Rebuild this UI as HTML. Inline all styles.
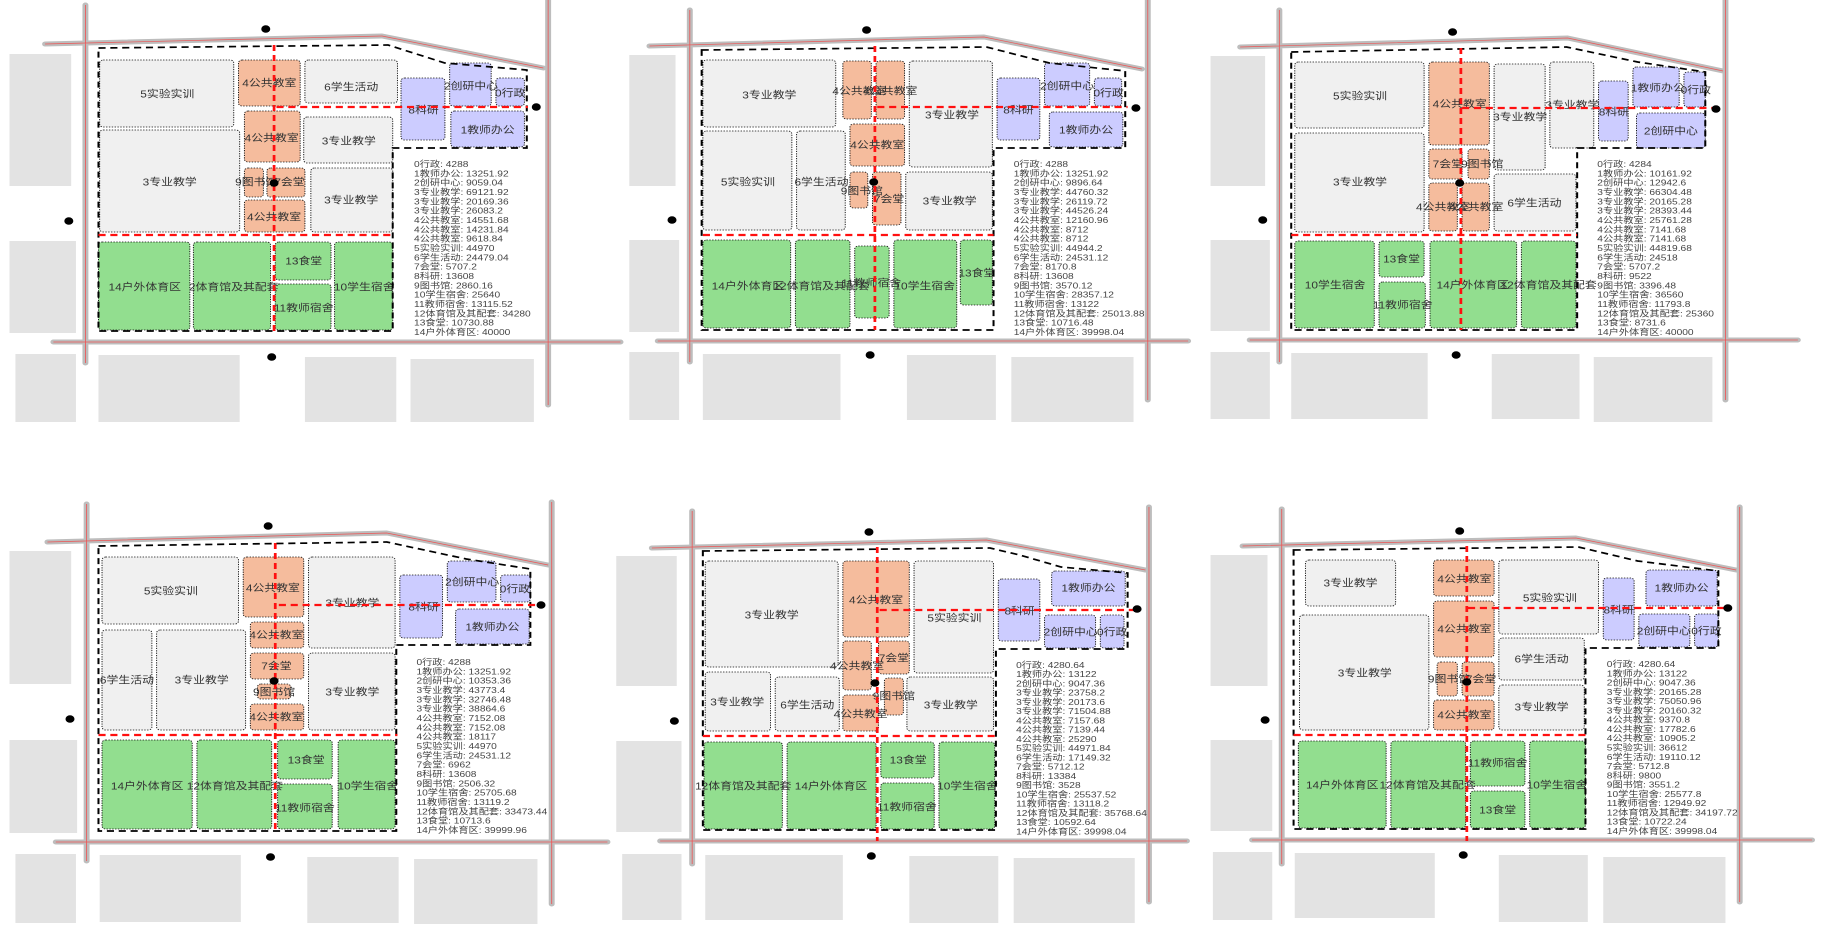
<!DOCTYPE html>
<html><head><meta charset="utf-8"><style>
html,body{margin:0;padding:0;background:#fff;overflow:hidden}
svg{display:block;font-family:"Liberation Sans","Noto Sans CJK SC",sans-serif;}
.b{fill:#e3e3e3}
.rd{fill:none;stroke:#bdbdbd;stroke-width:5;stroke-linecap:round;stroke-linejoin:round}
.rr{fill:none;stroke:#ee5555;stroke-width:.7}
.c{stroke:#111;stroke-width:.8;stroke-dasharray:1.2 1.2}
.gr{fill:#f0f0f0}.or{fill:#f5bc9d}.pu{fill:#ccccff}.gn{fill:#92de8f}
.bd{fill:none;stroke:#000;stroke-width:1.7;stroke-dasharray:6 4}
.red{fill:none;stroke:#ff1010;stroke-width:2.3;stroke-dasharray:6 4}
.l{font-size:10px;fill:#333;text-anchor:middle;dominant-baseline:central}
.t{font-size:8.6px;fill:#444}
</style></head><body>
<svg width="1839" height="929" viewBox="0 0 1550 929" preserveAspectRatio="none" xmlns="http://www.w3.org/2000/svg">
<rect width="1550" height="929" fill="#fff"/>

<!-- PANEL 1 -->
<g transform="translate(0,0)">
<rect class="b" x="8" y="54" width="52" height="132"/><rect class="b" x="8" y="241" width="56" height="92"/><rect class="b" x="13" y="354" width="51" height="68"/><rect class="b" x="83" y="355" width="119" height="67"/><rect class="b" x="257" y="357" width="77" height="65"/><rect class="b" x="346" y="359" width="104" height="63"/>
<path class="rd" d="M72 5V363M38 44L322 36L458 68M462 0V405M45 342H523"/>
<path class="rr" d="M72 5V363M38 44L322 36L458 68M462 0V405M45 342H523"/>
<rect class="c gr" rx="3" x="84" y="60" width="113" height="67"/><rect class="c or" rx="3" x="201" y="60" width="52" height="46"/><rect class="c gr" rx="3" x="257" y="60" width="78" height="43"/><rect class="c pu" rx="3" x="338" y="78" width="37" height="62"/><rect class="c pu" rx="3" x="379" y="63" width="35" height="43"/><rect class="c pu" rx="3" x="418" y="78" width="24" height="28"/><rect class="c pu" rx="3" x="380" y="111" width="62" height="36"/><rect class="c or" rx="3" x="206" y="111" width="47" height="51"/><rect class="c gr" rx="3" x="256" y="117" width="75" height="46"/><rect class="c gr" rx="3" x="84" y="130" width="118" height="102"/><rect class="c or" rx="3" x="206" y="168" width="16" height="29"/><rect class="c or" rx="3" x="225" y="168" width="32" height="29"/><rect class="c or" rx="3" x="206" y="200" width="51" height="32"/><rect class="c gr" rx="3" x="262" y="168" width="69" height="64"/><rect class="c gn" rx="3" x="83" y="242" width="77" height="88"/><rect class="c gn" rx="3" x="163" y="242" width="65" height="88"/><rect class="c gn" rx="3" x="232" y="242" width="47" height="38"/><rect class="c gn" rx="3" x="232" y="284" width="47" height="46"/><rect class="c gn" rx="3" x="282" y="242" width="49" height="88"/>
<text class="l" x="141" y="95">5实验实训</text><text class="l" x="227" y="84">4公共教室</text><text class="l" x="296" y="88">6学生活动</text><text class="l" x="357" y="111">8科研</text><text class="l" x="397" y="87">2创研中心</text><text class="l" x="430" y="94">0行政</text><text class="l" x="411" y="131">1教师办公</text><text class="l" x="229" y="139">4公共教室</text><text class="l" x="294" y="142">3专业教学</text><text class="l" x="143" y="183">3专业教学</text><text class="l" x="216" y="183">9图书馆</text><text class="l" x="244" y="183">7会堂</text><text class="l" x="231" y="218">4公共教室</text><text class="l" x="296" y="201">3专业教学</text><text class="l" x="122" y="288">14户外体育区</text><text class="l" x="197" y="288">2体育馆及其配套</text><text class="l" x="256" y="262">13食堂</text><text class="l" x="256" y="309">11教师宿舍</text><text class="l" x="307" y="288">10学生宿舍</text>
<path class="bd" d="M83 48L327 45L375 63L444 70V148H331V331H83Z"/>
<path class="red" d="M231 45V331M83 235H332M233 107H445"/>
<circle cx="224" cy="29" r="3.8"/><circle cx="58" cy="221" r="3.8"/><circle cx="229" cy="357" r="3.8"/><circle cx="452" cy="107" r="3.8"/><circle cx="231" cy="183" r="3.8"/>
<text class="t" x="349" y="167"><tspan x="349">0行政: 4288</tspan><tspan x="349" dy="9.33">1教师办公: 13251.92</tspan><tspan x="349" dy="9.33">2创研中心: 9059.04</tspan><tspan x="349" dy="9.33">3专业教学: 69121.92</tspan><tspan x="349" dy="9.33">3专业教学: 20169.36</tspan><tspan x="349" dy="9.33">3专业教学: 26083.2</tspan><tspan x="349" dy="9.33">4公共教室: 14551.68</tspan><tspan x="349" dy="9.33">4公共教室: 14231.84</tspan><tspan x="349" dy="9.33">4公共教室: 9618.84</tspan><tspan x="349" dy="9.33">5实验实训: 44970</tspan><tspan x="349" dy="9.33">6学生活动: 24479.04</tspan><tspan x="349" dy="9.33">7会堂: 5707.2</tspan><tspan x="349" dy="9.33">8科研: 13608</tspan><tspan x="349" dy="9.33">9图书馆: 2860.16</tspan><tspan x="349" dy="9.33">10学生宿舍: 25640</tspan><tspan x="349" dy="9.33">11教师宿舍: 13115.52</tspan><tspan x="349" dy="9.33">12体育馆及其配套: 34280</tspan><tspan x="349" dy="9.33">13食堂: 10730.88</tspan><tspan x="349" dy="9.33">14户外体育区: 40000</tspan></text>
</g>

<!-- PANEL 2 -->
<g transform="translate(514.4,0)">
<rect class="b" x="16" y="55" width="39" height="131"/><rect class="b" x="16" y="240" width="42" height="92"/><rect class="b" x="16" y="352" width="42" height="68"/><rect class="b" x="78" y="354" width="116" height="66"/><rect class="b" x="250" y="355" width="75" height="65"/><rect class="b" x="338" y="357" width="103" height="65"/>
<path class="rd" d="M67 10V362M33 46L315 37L448 69M453 0V400M40 341H487"/>
<path class="rr" d="M67 10V362M33 46L315 37L448 69M453 0V400M40 341H487"/>
<rect class="c gr" rx="3" x="78" y="60" width="112" height="67"/><rect class="c or" rx="3" x="196" y="61" width="24" height="58"/><rect class="c or" rx="3" x="224" y="61" width="24" height="58"/><rect class="c gr" rx="3" x="252" y="61" width="70" height="106"/><rect class="c pu" rx="3" x="326" y="78" width="36" height="62"/><rect class="c pu" rx="3" x="366" y="63" width="38" height="43"/><rect class="c pu" rx="3" x="408" y="78" width="23" height="28"/><rect class="c pu" rx="3" x="370" y="112" width="62" height="35"/><rect class="c gr" rx="3" x="78" y="131" width="75" height="99"/><rect class="c gr" rx="3" x="157" y="131" width="41" height="99"/><rect class="c or" rx="3" x="202" y="124" width="46" height="42"/><rect class="c or" rx="3" x="202" y="172" width="15" height="36"/><rect class="c or" rx="3" x="221" y="172" width="24" height="53"/><rect class="c gr" rx="3" x="249" y="172" width="73" height="58"/><rect class="c gn" rx="3" x="78" y="240" width="74" height="88"/><rect class="c gn" rx="3" x="156" y="240" width="46" height="88"/><rect class="c gn" rx="3" x="206" y="246" width="29" height="72"/><rect class="c gn" rx="3" x="239" y="240" width="53" height="88"/><rect class="c gn" rx="3" x="295" y="240" width="27" height="65"/>
<text class="l" x="134" y="96">3专业教学</text><text class="l" x="210" y="92">4公共教室</text><text class="l" x="236" y="92">4公共教室</text><text class="l" x="288" y="116">3专业教学</text><text class="l" x="344" y="111">8科研</text><text class="l" x="385" y="87">2创研中心</text><text class="l" x="420" y="94">0行政</text><text class="l" x="401" y="131">1教师办公</text><text class="l" x="116" y="183">5实验实训</text><text class="l" x="178" y="183">6学生活动</text><text class="l" x="225" y="146">4公共教室</text><text class="l" x="212" y="192">9图书馆</text><text class="l" x="235" y="200">7会堂</text><text class="l" x="286" y="202">3专业教学</text><text class="l" x="116" y="287">14户外体育区</text><text class="l" x="178" y="287">12体育馆及其配套</text><text class="l" x="220" y="284">11教师宿舍</text><text class="l" x="265" y="287">10学生宿舍</text><text class="l" x="309" y="274">13食堂</text>
<path class="bd" d="M77 50L317 47L370 63L434 71V148H323V330H77Z"/>
<path class="red" d="M223 46V330M78 235H323M225 107H436"/>
<circle cx="216" cy="30" r="3.8"/><circle cx="52" cy="220" r="3.8"/><circle cx="219" cy="355" r="3.8"/><circle cx="443" cy="108" r="3.8"/><circle cx="222" cy="182" r="3.8"/>
<text class="t" x="340" y="167"><tspan x="340">0行政: 4288</tspan><tspan x="340" dy="9.33">1教师办公: 13251.92</tspan><tspan x="340" dy="9.33">2创研中心: 9896.64</tspan><tspan x="340" dy="9.33">3专业教学: 44760.32</tspan><tspan x="340" dy="9.33">3专业教学: 26119.72</tspan><tspan x="340" dy="9.33">3专业教学: 44526.24</tspan><tspan x="340" dy="9.33">4公共教室: 12160.96</tspan><tspan x="340" dy="9.33">4公共教室: 8712</tspan><tspan x="340" dy="9.33">4公共教室: 8712</tspan><tspan x="340" dy="9.33">5实验实训: 44944.2</tspan><tspan x="340" dy="9.33">6学生活动: 24531.12</tspan><tspan x="340" dy="9.33">7会堂: 8170.8</tspan><tspan x="340" dy="9.33">8科研: 13608</tspan><tspan x="340" dy="9.33">9图书馆: 3570.12</tspan><tspan x="340" dy="9.33">10学生宿舍: 28357.12</tspan><tspan x="340" dy="9.33">11教师宿舍: 13122</tspan><tspan x="340" dy="9.33">12体育馆及其配套: 25013.88</tspan><tspan x="340" dy="9.33">13食堂: 10716.48</tspan><tspan x="340" dy="9.33">14户外体育区: 39998.04</tspan></text>
</g>

<!-- PANEL 3 -->
<g transform="translate(1020.3,0)">
<rect class="b" x="0" y="56" width="46" height="130"/><rect class="b" x="0" y="240" width="50" height="91"/><rect class="b" x="0" y="352" width="50" height="67"/><rect class="b" x="68" y="353" width="115" height="66"/><rect class="b" x="237" y="354" width="74" height="65"/><rect class="b" x="323" y="357" width="100" height="65"/>
<path class="rd" d="M58 10V362M25 47L301 38L432 71M434 0V400M33 340H495"/>
<path class="rr" d="M58 10V362M25 47L301 38L432 71M434 0V400M33 340H495"/>
<rect class="c gr" rx="3" x="71" y="62" width="109" height="66"/><rect class="c or" rx="3" x="184" y="62" width="51" height="83"/><rect class="c gr" rx="3" x="239" y="64" width="43" height="106"/><rect class="c gr" rx="3" x="286" y="62" width="37" height="86"/><rect class="c pu" rx="3" x="327" y="81" width="25" height="60"/><rect class="c pu" rx="3" x="356" y="67" width="39" height="40"/><rect class="c pu" rx="3" x="399" y="72" width="18" height="35"/><rect class="c pu" rx="3" x="359" y="113" width="58" height="35"/><rect class="c gr" rx="3" x="71" y="133" width="109" height="99"/><rect class="c or" rx="3" x="184" y="149" width="28" height="30"/><rect class="c or" rx="3" x="217" y="149" width="18" height="30"/><rect class="c or" rx="3" x="184" y="183" width="24" height="48"/><rect class="c or" rx="3" x="212" y="183" width="23" height="48"/><rect class="c gr" rx="3" x="239" y="174" width="69" height="57"/><rect class="c gn" rx="3" x="71" y="241" width="67" height="87"/><rect class="c gn" rx="3" x="142" y="241" width="38" height="36"/><rect class="c gn" rx="3" x="142" y="282" width="39" height="46"/><rect class="c gn" rx="3" x="185" y="241" width="73" height="87"/><rect class="c gn" rx="3" x="262" y="241" width="46" height="87"/>
<text class="l" x="126" y="97">5实验实训</text><text class="l" x="210" y="105">4公共教室</text><text class="l" x="261" y="118">3专业教学</text><text class="l" x="305" y="106">3专业教学</text><text class="l" x="340" y="113">8科研</text><text class="l" x="377" y="89">1教师办公</text><text class="l" x="409" y="91">0行政</text><text class="l" x="388" y="132">2创研中心</text><text class="l" x="126" y="183">3专业教学</text><text class="l" x="200" y="165">7会堂</text><text class="l" x="229" y="165">9图书馆</text><text class="l" x="196" y="208">4公共教室</text><text class="l" x="224" y="208">4公共教室</text><text class="l" x="273" y="204">6学生活动</text><text class="l" x="105" y="286">10学生宿舍</text><text class="l" x="161" y="260">13食堂</text><text class="l" x="162" y="306">11教师宿舍</text><text class="l" x="221" y="286">14户外体育区</text><text class="l" x="285" y="286">12体育馆及其配套</text>
<path class="bd" d="M68 52L300 47L360 62L417 72V148H309V330H68Z"/>
<path class="red" d="M211 48V330M68 235H309M212 108H424"/>
<circle cx="204" cy="32" r="3.8"/><circle cx="44" cy="220" r="3.8"/><circle cx="207" cy="355" r="3.8"/><circle cx="426" cy="109" r="3.8"/><circle cx="210" cy="183" r="3.8"/>
<text class="t" x="326" y="167"><tspan x="326">0行政: 4284</tspan><tspan x="326" dy="9.33">1教师办公: 10161.92</tspan><tspan x="326" dy="9.33">2创研中心: 12942.6</tspan><tspan x="326" dy="9.33">3专业教学: 66304.48</tspan><tspan x="326" dy="9.33">3专业教学: 20165.28</tspan><tspan x="326" dy="9.33">3专业教学: 28393.44</tspan><tspan x="326" dy="9.33">4公共教室: 25761.28</tspan><tspan x="326" dy="9.33">4公共教室: 7141.68</tspan><tspan x="326" dy="9.33">4公共教室: 7141.68</tspan><tspan x="326" dy="9.33">5实验实训: 44819.68</tspan><tspan x="326" dy="9.33">6学生活动: 24518</tspan><tspan x="326" dy="9.33">7会堂: 5707.2</tspan><tspan x="326" dy="9.33">8科研: 9522</tspan><tspan x="326" dy="9.33">9图书馆: 3396.48</tspan><tspan x="326" dy="9.33">10学生宿舍: 36560</tspan><tspan x="326" dy="9.33">11教师宿舍: 11793.8</tspan><tspan x="326" dy="9.33">12体育馆及其配套: 25360</tspan><tspan x="326" dy="9.33">13食堂: 8731.6</tspan><tspan x="326" dy="9.33">14户外体育区: 40000</tspan></text>
</g>

<!-- PANEL 4 -->
<g transform="translate(0,499)">
<rect class="b" x="8" y="52" width="52" height="133"/><rect class="b" x="8" y="241" width="57" height="93"/><rect class="b" x="13" y="355" width="51" height="69"/><rect class="b" x="84" y="356" width="119" height="67"/><rect class="b" x="259" y="358" width="77" height="66"/><rect class="b" x="349" y="360" width="104" height="65"/>
<path class="rd" d="M73 5V362M40 43L326 34L462 66M465 3V405M47 343H512"/>
<path class="rr" d="M73 5V362M40 43L326 34L462 66M465 3V405M47 343H512"/>
<rect class="c gr" rx="3" x="86" y="58" width="115" height="67"/><rect class="c or" rx="3" x="205" y="58" width="51" height="60"/><rect class="c gr" rx="3" x="260" y="58" width="73" height="91"/><rect class="c pu" rx="3" x="337" y="76" width="36" height="63"/><rect class="c pu" rx="3" x="377" y="62" width="41" height="41"/><rect class="c pu" rx="3" x="422" y="76" width="25" height="27"/><rect class="c pu" rx="3" x="384" y="110" width="62" height="35"/><rect class="c or" rx="3" x="211" y="123" width="45" height="26"/><rect class="c gr" rx="3" x="86" y="131" width="42" height="100"/><rect class="c gr" rx="3" x="132" y="131" width="75" height="100"/><rect class="c or" rx="3" x="211" y="154" width="45" height="26"/><rect class="c or" rx="3" x="217" y="185" width="28" height="15"/><rect class="c or" rx="3" x="211" y="205" width="45" height="26"/><rect class="c gr" rx="3" x="260" y="154" width="73" height="77"/><rect class="c gn" rx="3" x="86" y="241" width="76" height="89"/><rect class="c gn" rx="3" x="166" y="241" width="63" height="89"/><rect class="c gn" rx="3" x="234" y="241" width="46" height="39"/><rect class="c gn" rx="3" x="234" y="285" width="46" height="45"/><rect class="c gn" rx="3" x="285" y="241" width="48" height="89"/>
<text class="l" x="144" y="93">5实验实训</text><text class="l" x="230" y="90">4公共教室</text><text class="l" x="297" y="105">3专业教学</text><text class="l" x="357" y="109">8科研</text><text class="l" x="398" y="84">2创研中心</text><text class="l" x="434" y="91">0行政</text><text class="l" x="415" y="129">1教师办公</text><text class="l" x="233" y="137">4公共教室</text><text class="l" x="107" y="182">6学生活动</text><text class="l" x="170" y="182">3专业教学</text><text class="l" x="233" y="168">7会堂</text><text class="l" x="231" y="194">9图书馆</text><text class="l" x="233" y="219">4公共教室</text><text class="l" x="297" y="194">3专业教学</text><text class="l" x="124" y="288">14户外体育区</text><text class="l" x="198" y="288">12体育馆及其配套</text><text class="l" x="258" y="262">13食堂</text><text class="l" x="257" y="310">11教师宿舍</text><text class="l" x="310" y="288">10学生宿舍</text>
<path class="bd" d="M83 47L326 43L393 60L447 70V146H334V332H83Z"/>
<path class="red" d="M232 44V333M83 236H335M235 106H452"/>
<circle cx="226" cy="27" r="3.8"/><circle cx="59" cy="220" r="3.8"/><circle cx="228" cy="358" r="3.8"/><circle cx="456" cy="106" r="3.8"/><circle cx="231" cy="182" r="3.8"/>
<text class="t" x="351" y="166"><tspan x="351">0行政: 4288</tspan><tspan x="351" dy="9.33">1教师办公: 13251.92</tspan><tspan x="351" dy="9.33">2创研中心: 10353.36</tspan><tspan x="351" dy="9.33">3专业教学: 43773.4</tspan><tspan x="351" dy="9.33">3专业教学: 32746.48</tspan><tspan x="351" dy="9.33">3专业教学: 38864.6</tspan><tspan x="351" dy="9.33">4公共教室: 7152.08</tspan><tspan x="351" dy="9.33">4公共教室: 7152.08</tspan><tspan x="351" dy="9.33">4公共教室: 18117</tspan><tspan x="351" dy="9.33">5实验实训: 44970</tspan><tspan x="351" dy="9.33">6学生活动: 24531.12</tspan><tspan x="351" dy="9.33">7会堂: 6962</tspan><tspan x="351" dy="9.33">8科研: 13608</tspan><tspan x="351" dy="9.33">9图书馆: 2506.32</tspan><tspan x="351" dy="9.33">10学生宿舍: 25705.68</tspan><tspan x="351" dy="9.33">11教师宿舍: 13119.2</tspan><tspan x="351" dy="9.33">12体育馆及其配套: 33473.44</tspan><tspan x="351" dy="9.33">13食堂: 10713.6</tspan><tspan x="351" dy="9.33">14户外体育区: 39999.96</tspan></text>
</g>

<!-- PANEL 5 -->
<g transform="translate(514.4,499)">
<rect class="b" x="5" y="57" width="51" height="130"/><rect class="b" x="5" y="242" width="55" height="91"/><rect class="b" x="10" y="355" width="50" height="66"/><rect class="b" x="80" y="356" width="116" height="65"/><rect class="b" x="252" y="357" width="75" height="67"/><rect class="b" x="340" y="359" width="102" height="65"/>
<path class="rd" d="M69 12V365M35 49L317 41L451 71M454 8V403M42 342H486"/>
<path class="rr" d="M69 12V365M35 49L317 41L451 71M454 8V403M42 342H486"/>
<rect class="c gr" rx="3" x="80" y="62" width="112" height="106"/><rect class="c or" rx="3" x="196" y="62" width="56" height="76"/><rect class="c gr" rx="3" x="256" y="62" width="67" height="112"/><rect class="c pu" rx="3" x="327" y="80" width="35" height="62"/><rect class="c pu" rx="3" x="372" y="72" width="62" height="35"/><rect class="c pu" rx="3" x="366" y="116" width="43" height="33"/><rect class="c pu" rx="3" x="413" y="116" width="20" height="33"/><rect class="c or" rx="3" x="196" y="142" width="24" height="49"/><rect class="c or" rx="3" x="226" y="142" width="26" height="33"/><rect class="c gr" rx="3" x="80" y="173" width="55" height="59"/><rect class="c gr" rx="3" x="139" y="178" width="54" height="54"/><rect class="c or" rx="3" x="231" y="179" width="16" height="37"/><rect class="c or" rx="3" x="196" y="196" width="30" height="36"/><rect class="c gr" rx="3" x="250" y="178" width="73" height="54"/><rect class="c gn" rx="3" x="79" y="243" width="66" height="87"/><rect class="c gn" rx="3" x="149" y="243" width="75" height="87"/><rect class="c gn" rx="3" x="228" y="243" width="45" height="36"/><rect class="c gn" rx="3" x="228" y="284" width="45" height="46"/><rect class="c gn" rx="3" x="277" y="243" width="47" height="87"/>
<text class="l" x="136" y="117">3专业教学</text><text class="l" x="224" y="102">4公共教室</text><text class="l" x="290" y="120">5实验实训</text><text class="l" x="345" y="113">8科研</text><text class="l" x="403" y="90">1教师办公</text><text class="l" x="388" y="134">2创研中心</text><text class="l" x="423" y="134">0行政</text><text class="l" x="208" y="168">4公共教室</text><text class="l" x="239" y="160">7会堂</text><text class="l" x="107" y="204">3专业教学</text><text class="l" x="166" y="207">6学生活动</text><text class="l" x="239" y="198">9图书馆</text><text class="l" x="211" y="216">4公共教室</text><text class="l" x="287" y="207">3专业教学</text><text class="l" x="112" y="288">12体育馆及其配套</text><text class="l" x="186" y="288">14户外体育区</text><text class="l" x="251" y="262">13食堂</text><text class="l" x="250" y="309">11教师宿舍</text><text class="l" x="301" y="288">10学生宿舍</text>
<path class="bd" d="M78 52L320 49L345 56L380 68L436 74V150H325V331H78Z"/>
<path class="red" d="M225 48V342M78 237H326M227 111H446"/>
<circle cx="218" cy="33" r="3.8"/><circle cx="54" cy="222" r="3.8"/><circle cx="220" cy="357" r="3.8"/><circle cx="444" cy="110" r="3.8"/><circle cx="223" cy="184" r="3.8"/>
<text class="t" x="342" y="169"><tspan x="342">0行政: 4280.64</tspan><tspan x="342" dy="9.25">1教师办公: 13122</tspan><tspan x="342" dy="9.25">2创研中心: 9047.36</tspan><tspan x="342" dy="9.25">3专业教学: 23758.2</tspan><tspan x="342" dy="9.25">3专业教学: 20173.6</tspan><tspan x="342" dy="9.25">3专业教学: 71504.88</tspan><tspan x="342" dy="9.25">4公共教室: 7157.68</tspan><tspan x="342" dy="9.25">4公共教室: 7139.44</tspan><tspan x="342" dy="9.25">4公共教室: 25290</tspan><tspan x="342" dy="9.25">5实验实训: 44971.84</tspan><tspan x="342" dy="9.25">6学生活动: 17149.32</tspan><tspan x="342" dy="9.25">7会堂: 5712.12</tspan><tspan x="342" dy="9.25">8科研: 13384</tspan><tspan x="342" dy="9.25">9图书馆: 3528</tspan><tspan x="342" dy="9.25">10学生宿舍: 25537.52</tspan><tspan x="342" dy="9.25">11教师宿舍: 13118.2</tspan><tspan x="342" dy="9.25">12体育馆及其配套: 35768.64</tspan><tspan x="342" dy="9.25">13食堂: 10592.64</tspan><tspan x="342" dy="9.25">14户外体育区: 39998.04</tspan></text>
</g>

<!-- PANEL 6 -->
<g transform="translate(1020.3,499)">
<rect class="b" x="0" y="56" width="48" height="131"/><rect class="b" x="0" y="241" width="52" height="91"/><rect class="b" x="2" y="353" width="50" height="68"/><rect class="b" x="71" y="354" width="118" height="65"/><rect class="b" x="243" y="356" width="75" height="67"/><rect class="b" x="331" y="358" width="103" height="66"/>
<path class="rd" d="M60 10V365M27 47L308 39L443 71M446 8V403M35 341H507"/>
<path class="rr" d="M60 10V365M27 47L308 39L443 71M446 8V403M35 341H507"/>
<rect class="c gr" rx="3" x="80" y="61" width="76" height="46"/><rect class="c or" rx="3" x="188" y="61" width="51" height="36"/><rect class="c gr" rx="3" x="243" y="61" width="84" height="74"/><rect class="c pu" rx="3" x="331" y="79" width="26" height="62"/><rect class="c pu" rx="3" x="367" y="71" width="60" height="36"/><rect class="c pu" rx="3" x="361" y="115" width="43" height="33"/><rect class="c pu" rx="3" x="408" y="115" width="20" height="33"/><rect class="c gr" rx="3" x="75" y="116" width="109" height="115"/><rect class="c or" rx="3" x="188" y="102" width="51" height="56"/><rect class="c gr" rx="3" x="243" y="139" width="72" height="42"/><rect class="c or" rx="3" x="191" y="163" width="17" height="34"/><rect class="c or" rx="3" x="212" y="163" width="27" height="34"/><rect class="c or" rx="3" x="188" y="201" width="51" height="30"/><rect class="c gr" rx="3" x="243" y="186" width="72" height="45"/><rect class="c gn" rx="3" x="74" y="242" width="74" height="87"/><rect class="c gn" rx="3" x="152" y="242" width="63" height="87"/><rect class="c gn" rx="3" x="219" y="242" width="46" height="45"/><rect class="c gn" rx="3" x="219" y="292" width="46" height="37"/><rect class="c gn" rx="3" x="269" y="242" width="47" height="87"/>
<text class="l" x="118" y="85">3专业教学</text><text class="l" x="214" y="81">4公共教室</text><text class="l" x="286" y="100">5实验实训</text><text class="l" x="344" y="112">8科研</text><text class="l" x="397" y="90">1教师办公</text><text class="l" x="382" y="133">2创研中心</text><text class="l" x="418" y="133">0行政</text><text class="l" x="130" y="175">3专业教学</text><text class="l" x="214" y="131">4公共教室</text><text class="l" x="279" y="161">6学生活动</text><text class="l" x="201" y="181">9图书馆</text><text class="l" x="228" y="181">7会堂</text><text class="l" x="214" y="217">4公共教室</text><text class="l" x="279" y="209">3专业教学</text><text class="l" x="111" y="287">14户外体育区</text><text class="l" x="183" y="287">12体育馆及其配套</text><text class="l" x="242" y="265">11教师宿舍</text><text class="l" x="242" y="312">13食堂</text><text class="l" x="292" y="287">10学生宿舍</text>
<path class="bd" d="M70 51L310 48L360 62L428 72V149H316V330H70Z"/>
<path class="red" d="M216 47V342M70 236H318M217 109H436"/>
<circle cx="210" cy="32" r="3.8"/><circle cx="46" cy="221" r="3.8"/><circle cx="213" cy="356" r="3.8"/><circle cx="436" cy="109" r="3.8"/><circle cx="216" cy="183" r="3.8"/>
<text class="t" x="334" y="168"><tspan x="334">0行政: 4280.64</tspan><tspan x="334" dy="9.28">1教师办公: 13122</tspan><tspan x="334" dy="9.28">2创研中心: 9047.36</tspan><tspan x="334" dy="9.28">3专业教学: 20165.28</tspan><tspan x="334" dy="9.28">3专业教学: 75050.96</tspan><tspan x="334" dy="9.28">3专业教学: 20160.32</tspan><tspan x="334" dy="9.28">4公共教室: 9370.8</tspan><tspan x="334" dy="9.28">4公共教室: 17782.6</tspan><tspan x="334" dy="9.28">4公共教室: 10905.2</tspan><tspan x="334" dy="9.28">5实验实训: 36612</tspan><tspan x="334" dy="9.28">6学生活动: 19110.12</tspan><tspan x="334" dy="9.28">7会堂: 5712.8</tspan><tspan x="334" dy="9.28">8科研: 9800</tspan><tspan x="334" dy="9.28">9图书馆: 3551.2</tspan><tspan x="334" dy="9.28">10学生宿舍: 25577.8</tspan><tspan x="334" dy="9.28">11教师宿舍: 12949.92</tspan><tspan x="334" dy="9.28">12体育馆及其配套: 34197.72</tspan><tspan x="334" dy="9.28">13食堂: 10722.24</tspan><tspan x="334" dy="9.28">14户外体育区: 39998.04</tspan></text>
</g>
</svg>
</body></html>
